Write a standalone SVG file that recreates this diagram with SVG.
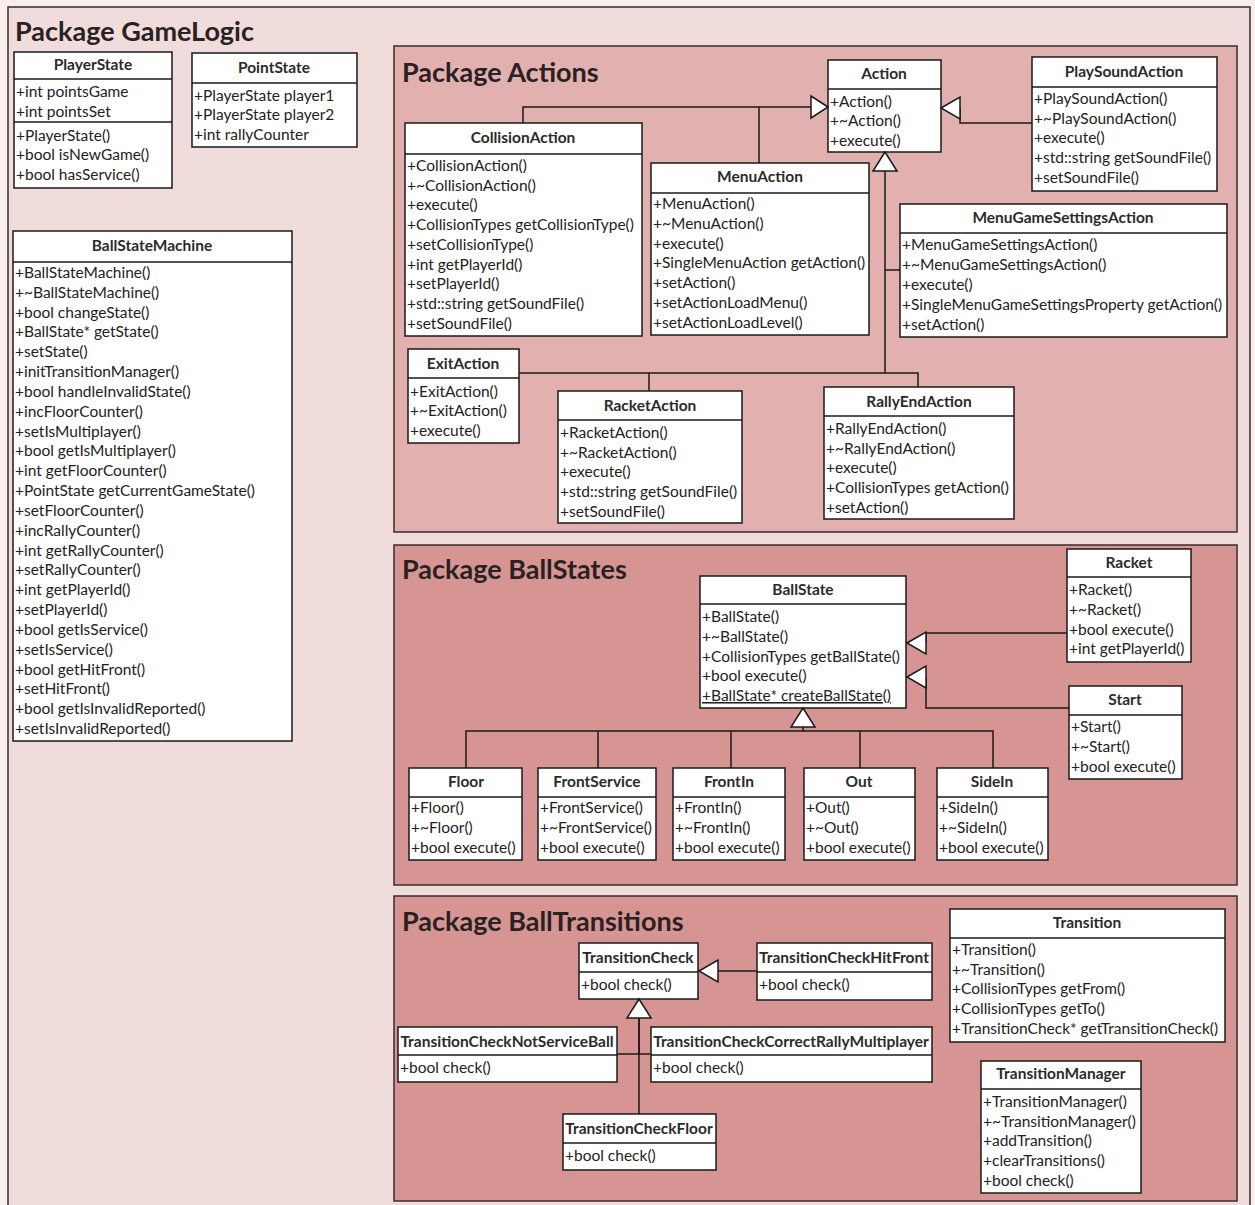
<svg xmlns="http://www.w3.org/2000/svg" width="1255" height="1205" viewBox="0 0 1255 1205">
  <defs>
    <style>
      .pkg { stroke: #3b2b2b; stroke-width: 1.5; }
      .box { fill: #ffffff; stroke: #1a1a1a; stroke-width: 1.5; }
      .sep { stroke: #1a1a1a; stroke-width: 1.5; }
      .pt { font-family: Lato, "Liberation Sans", sans-serif; font-weight: bold; font-size: 27px; fill: #2a2222; }
      .ct { font-family: Lato, "Liberation Sans", sans-serif; font-weight: bold; font-size: 15.5px; fill: #2b2b2b; text-anchor: middle; }
      .m { font-family: Lato, "Liberation Sans", sans-serif; font-size: 15.5px; fill: #222222; }
      .u { text-decoration: underline; }
      .edge { fill: none; stroke: #1a1a1a; stroke-width: 1.5; }
      .head { fill: #ffffff; stroke: #1a1a1a; stroke-width: 1.5; }
    </style>
  </defs>

  <!-- outer package -->
  <rect x="0" y="0" width="1255" height="1205" fill="#f8eeee"/>
  <rect id="pkg-gamelogic" class="pkg" x="8" y="7" width="1242" height="1210" fill="#f0dcdb"/>
  <text class="pt" x="15" y="41">Package GameLogic</text>

  <!-- sub packages -->
  <g id="pkg-actions">
    <rect class="pkg" x="394" y="46" width="843" height="486" fill="#e1b0af"/>
    <text class="pt" x="402" y="82">Package Actions</text>
  </g>
  <g id="pkg-ballstates">
    <rect class="pkg" x="394" y="545" width="843" height="340" fill="#d69592"/>
    <text class="pt" x="402" y="579">Package BallStates</text>
  </g>
  <g id="pkg-balltransitions">
    <rect class="pkg" x="394" y="896" width="843" height="305" fill="#d69592"/>
    <text class="pt" x="402" y="931">Package BallTransitions</text>
  </g>

  <!-- GameLogic classes -->
  <g id="PlayerState">
    <rect class="box" x="14" y="52" width="158" height="136"/>
    <line class="sep" x1="14" y1="79" x2="172" y2="79"/>
    <line class="sep" x1="14" y1="122" x2="172" y2="122"/>
    <text class="ct" x="93" y="70">PlayerState</text>
    <text class="m" x="16" y="97">+int pointsGame</text>
    <text class="m" x="16" y="117">+int pointsSet</text>
    <text class="m" x="16" y="141">+PlayerState()</text>
    <text class="m" x="16" y="160">+bool isNewGame()</text>
    <text class="m" x="16" y="180">+bool hasService()</text>
  </g>

  <g id="PointState">
    <rect class="box" x="192" y="53" width="165" height="94"/>
    <line class="sep" x1="192" y1="83" x2="357" y2="83"/>
    <text class="ct" x="274" y="73">PointState</text>
    <text class="m" x="194" y="101">+PlayerState player1</text>
    <text class="m" x="194" y="120">+PlayerState player2</text>
    <text class="m" x="194" y="140">+int rallyCounter</text>
  </g>

  <g id="BallStateMachine">
    <rect class="box" x="13" y="231" width="279" height="510"/>
    <line class="sep" x1="13" y1="262" x2="292" y2="262"/>
    <text class="ct" x="152" y="251">BallStateMachine</text>
    <text class="m" x="15" y="278">+BallStateMachine()</text>
    <text class="m" x="15" y="298">+~BallStateMachine()</text>
    <text class="m" x="15" y="318">+bool changeState()</text>
    <text class="m" x="15" y="337">+BallState* getState()</text>
    <text class="m" x="15" y="357">+setState()</text>
    <text class="m" x="15" y="377">+initTransitionManager()</text>
    <text class="m" x="15" y="397">+bool handleInvalidState()</text>
    <text class="m" x="15" y="417">+incFloorCounter()</text>
    <text class="m" x="15" y="437">+setIsMultiplayer()</text>
    <text class="m" x="15" y="456">+bool getIsMultiplayer()</text>
    <text class="m" x="15" y="476">+int getFloorCounter()</text>
    <text class="m" x="15" y="496">+PointState getCurrentGameState()</text>
    <text class="m" x="15" y="516">+setFloorCounter()</text>
    <text class="m" x="15" y="536">+incRallyCounter()</text>
    <text class="m" x="15" y="556">+int getRallyCounter()</text>
    <text class="m" x="15" y="575">+setRallyCounter()</text>
    <text class="m" x="15" y="595">+int getPlayerId()</text>
    <text class="m" x="15" y="615">+setPlayerId()</text>
    <text class="m" x="15" y="635">+bool getIsService()</text>
    <text class="m" x="15" y="655">+setIsService()</text>
    <text class="m" x="15" y="675">+bool getHitFront()</text>
    <text class="m" x="15" y="694">+setHitFront()</text>
    <text class="m" x="15" y="714">+bool getIsInvalidReported()</text>
    <text class="m" x="15" y="734">+setIsInvalidReported()</text>
  </g>

  <!-- Actions classes -->
  <g id="Action">
    <rect class="box" x="828" y="60" width="113" height="92"/>
    <line class="sep" x1="828" y1="89" x2="941" y2="89"/>
    <text class="ct" x="884" y="79">Action</text>
    <text class="m" x="830" y="107">+Action()</text>
    <text class="m" x="830" y="126">+~Action()</text>
    <text class="m" x="830" y="146">+execute()</text>
  </g>

  <g id="PlaySoundAction">
    <rect class="box" x="1032" y="57" width="185" height="134"/>
    <line class="sep" x1="1032" y1="87" x2="1217" y2="87"/>
    <text class="ct" x="1124" y="77">PlaySoundAction</text>
    <text class="m" x="1034" y="104">+PlaySoundAction()</text>
    <text class="m" x="1034" y="124">+~PlaySoundAction()</text>
    <text class="m" x="1034" y="143">+execute()</text>
    <text class="m" x="1034" y="163">+std::string getSoundFile()</text>
    <text class="m" x="1034" y="183">+setSoundFile()</text>
  </g>

  <g id="CollisionAction">
    <rect class="box" x="405" y="123" width="237" height="213"/>
    <line class="sep" x1="405" y1="154" x2="642" y2="154"/>
    <text class="ct" x="523" y="143">CollisionAction</text>
    <text class="m" x="407" y="171">+CollisionAction()</text>
    <text class="m" x="407" y="191">+~CollisionAction()</text>
    <text class="m" x="407" y="210">+execute()</text>
    <text class="m" x="407" y="230">+CollisionTypes getCollisionType()</text>
    <text class="m" x="407" y="250">+setCollisionType()</text>
    <text class="m" x="407" y="270">+int getPlayerId()</text>
    <text class="m" x="407" y="289">+setPlayerId()</text>
    <text class="m" x="407" y="309">+std::string getSoundFile()</text>
    <text class="m" x="407" y="329">+setSoundFile()</text>
  </g>

  <g id="MenuAction">
    <rect class="box" x="651" y="163" width="218" height="172"/>
    <line class="sep" x1="651" y1="193" x2="869" y2="193"/>
    <text class="ct" x="760" y="182">MenuAction</text>
    <text class="m" x="653" y="209">+MenuAction()</text>
    <text class="m" x="653" y="229">+~MenuAction()</text>
    <text class="m" x="653" y="249">+execute()</text>
    <text class="m" x="653" y="268">+SingleMenuAction getAction()</text>
    <text class="m" x="653" y="288">+setAction()</text>
    <text class="m" x="653" y="308">+setActionLoadMenu()</text>
    <text class="m" x="653" y="328">+setActionLoadLevel()</text>
  </g>

  <g id="MenuGameSettingsAction">
    <rect class="box" x="900" y="204" width="327" height="133"/>
    <line class="sep" x1="900" y1="233" x2="1227" y2="233"/>
    <text class="ct" x="1063" y="223">MenuGameSettingsAction</text>
    <text class="m" x="902" y="250">+MenuGameSettingsAction()</text>
    <text class="m" x="902" y="270">+~MenuGameSettingsAction()</text>
    <text class="m" x="902" y="290">+execute()</text>
    <text class="m" x="902" y="310">+SingleMenuGameSettingsProperty getAction()</text>
    <text class="m" x="902" y="330">+setAction()</text>
  </g>

  <g id="ExitAction">
    <rect class="box" x="408" y="349" width="111" height="94"/>
    <line class="sep" x1="408" y1="378" x2="519" y2="378"/>
    <text class="ct" x="463" y="369">ExitAction</text>
    <text class="m" x="410" y="397">+ExitAction()</text>
    <text class="m" x="410" y="416">+~ExitAction()</text>
    <text class="m" x="410" y="436">+execute()</text>
  </g>

  <g id="RacketAction">
    <rect class="box" x="558" y="391" width="184" height="132"/>
    <line class="sep" x1="558" y1="420" x2="742" y2="420"/>
    <text class="ct" x="650" y="411">RacketAction</text>
    <text class="m" x="560" y="438">+RacketAction()</text>
    <text class="m" x="560" y="458">+~RacketAction()</text>
    <text class="m" x="560" y="477">+execute()</text>
    <text class="m" x="560" y="497">+std::string getSoundFile()</text>
    <text class="m" x="560" y="517">+setSoundFile()</text>
  </g>

  <g id="RallyEndAction">
    <rect class="box" x="824" y="387" width="190" height="132"/>
    <line class="sep" x1="824" y1="416" x2="1014" y2="416"/>
    <text class="ct" x="919" y="407">RallyEndAction</text>
    <text class="m" x="826" y="434">+RallyEndAction()</text>
    <text class="m" x="826" y="454">+~RallyEndAction()</text>
    <text class="m" x="826" y="473">+execute()</text>
    <text class="m" x="826" y="493">+CollisionTypes getAction()</text>
    <text class="m" x="826" y="513">+setAction()</text>
  </g>

  <!-- BallStates classes -->
  <g id="BallState">
    <rect class="box" x="700" y="576" width="206" height="132"/>
    <line class="sep" x1="700" y1="604" x2="906" y2="604"/>
    <text class="ct" x="803" y="595">BallState</text>
    <text class="m" x="702" y="622">+BallState()</text>
    <text class="m" x="702" y="642">+~BallState()</text>
    <text class="m" x="702" y="662">+CollisionTypes getBallState()</text>
    <text class="m" x="702" y="681">+bool execute()</text>
    <text class="m u" x="702" y="701">+BallState* createBallState()</text>
  </g>

  <g id="Racket">
    <rect class="box" x="1067" y="549" width="124" height="113"/>
    <line class="sep" x1="1067" y1="577" x2="1191" y2="577"/>
    <text class="ct" x="1129" y="568">Racket</text>
    <text class="m" x="1069" y="595">+Racket()</text>
    <text class="m" x="1069" y="615">+~Racket()</text>
    <text class="m" x="1069" y="635">+bool execute()</text>
    <text class="m" x="1069" y="654">+int getPlayerId()</text>
  </g>

  <g id="Start">
    <rect class="box" x="1069" y="686" width="113" height="93"/>
    <line class="sep" x1="1069" y1="715" x2="1182" y2="715"/>
    <text class="ct" x="1125" y="705">Start</text>
    <text class="m" x="1071" y="732">+Start()</text>
    <text class="m" x="1071" y="752">+~Start()</text>
    <text class="m" x="1071" y="772">+bool execute()</text>
  </g>

  <g id="Floor">
    <rect class="box" x="409" y="768" width="113" height="92"/>
    <line class="sep" x1="409" y1="797" x2="522" y2="797"/>
    <text class="ct" x="466" y="787">Floor</text>
    <text class="m" x="411" y="813">+Floor()</text>
    <text class="m" x="411" y="833">+~Floor()</text>
    <text class="m" x="411" y="853">+bool execute()</text>
  </g>

  <g id="FrontService">
    <rect class="box" x="538" y="768" width="118" height="92"/>
    <line class="sep" x1="538" y1="797" x2="656" y2="797"/>
    <text class="ct" x="597" y="787">FrontService</text>
    <text class="m" x="540" y="813">+FrontService()</text>
    <text class="m" x="540" y="833">+~FrontService()</text>
    <text class="m" x="540" y="853">+bool execute()</text>
  </g>

  <g id="FrontIn">
    <rect class="box" x="673" y="768" width="112" height="92"/>
    <line class="sep" x1="673" y1="797" x2="785" y2="797"/>
    <text class="ct" x="729" y="787">FrontIn</text>
    <text class="m" x="675" y="813">+FrontIn()</text>
    <text class="m" x="675" y="833">+~FrontIn()</text>
    <text class="m" x="675" y="853">+bool execute()</text>
  </g>

  <g id="Out">
    <rect class="box" x="804" y="768" width="111" height="92"/>
    <line class="sep" x1="804" y1="797" x2="915" y2="797"/>
    <text class="ct" x="859" y="787">Out</text>
    <text class="m" x="806" y="813">+Out()</text>
    <text class="m" x="806" y="833">+~Out()</text>
    <text class="m" x="806" y="853">+bool execute()</text>
  </g>

  <g id="SideIn">
    <rect class="box" x="937" y="768" width="111" height="92"/>
    <line class="sep" x1="937" y1="797" x2="1048" y2="797"/>
    <text class="ct" x="992" y="787">SideIn</text>
    <text class="m" x="939" y="813">+SideIn()</text>
    <text class="m" x="939" y="833">+~SideIn()</text>
    <text class="m" x="939" y="853">+bool execute()</text>
  </g>

  <!-- BallTransitions classes -->
  <g id="TransitionCheck">
    <rect class="box" x="579" y="943" width="119" height="56"/>
    <line class="sep" x1="579" y1="972" x2="698" y2="972"/>
    <text class="ct" x="638" y="963">TransitionCheck</text>
    <text class="m" x="581" y="990">+bool check()</text>
  </g>

  <g id="TransitionCheckHitFront">
    <rect class="box" x="757" y="943" width="175" height="57"/>
    <line class="sep" x1="757" y1="972" x2="932" y2="972"/>
    <text class="ct" x="844" y="963">TransitionCheckHitFront</text>
    <text class="m" x="759" y="990">+bool check()</text>
  </g>

  <g id="TransitionCheckNotServiceBall">
    <rect class="box" x="398" y="1027" width="219" height="55"/>
    <line class="sep" x1="398" y1="1055" x2="617" y2="1055"/>
    <text class="ct" x="507" y="1047">TransitionCheckNotServiceBall</text>
    <text class="m" x="400" y="1073">+bool check()</text>
  </g>

  <g id="TransitionCheckCorrectRallyMultiplayer">
    <rect class="box" x="651" y="1027" width="281" height="55"/>
    <line class="sep" x1="651" y1="1055" x2="932" y2="1055"/>
    <text class="ct" x="791" y="1047">TransitionCheckCorrectRallyMultiplayer</text>
    <text class="m" x="653" y="1073">+bool check()</text>
  </g>

  <g id="TransitionCheckFloor">
    <rect class="box" x="563" y="1114" width="153" height="56"/>
    <line class="sep" x1="563" y1="1143" x2="716" y2="1143"/>
    <text class="ct" x="639" y="1134">TransitionCheckFloor</text>
    <text class="m" x="565" y="1161">+bool check()</text>
  </g>

  <g id="Transition">
    <rect class="box" x="950" y="909" width="275" height="133"/>
    <line class="sep" x1="950" y1="938" x2="1225" y2="938"/>
    <text class="ct" x="1087" y="928">Transition</text>
    <text class="m" x="952" y="955">+Transition()</text>
    <text class="m" x="952" y="975">+~Transition()</text>
    <text class="m" x="952" y="994">+CollisionTypes getFrom()</text>
    <text class="m" x="952" y="1014">+CollisionTypes getTo()</text>
    <text class="m" x="952" y="1034">+TransitionCheck* getTransitionCheck()</text>
  </g>

  <g id="TransitionManager">
    <rect class="box" x="981" y="1061" width="160" height="132"/>
    <line class="sep" x1="981" y1="1089" x2="1141" y2="1089"/>
    <text class="ct" x="1061" y="1079">TransitionManager</text>
    <text class="m" x="983" y="1107">+TransitionManager()</text>
    <text class="m" x="983" y="1127">+~TransitionManager()</text>
    <text class="m" x="983" y="1146">+addTransition()</text>
    <text class="m" x="983" y="1166">+clearTransitions()</text>
    <text class="m" x="983" y="1186">+bool check()</text>
  </g>

  <!-- generalization connectors -->
  <g id="connectors">
    <!-- Actions -->
    <path class="edge" d="M523,123 V107 H811 M759,163 V107"/>
    <polygon class="head" points="828,107 811,96 811,118"/>
    <path class="edge" d="M1032,123 H960 V108"/>
    <polygon class="head" points="941,108 960,97 960,119"/>
    <path class="edge" d="M885,171 V373 M885,270 H900 M519,373 H918 V387 M649,373 V391"/>
    <polygon class="head" points="885,152 873,171 897,171"/>

    <!-- BallStates -->
    <path class="edge" d="M1067,633 H926 V643"/>
    <polygon class="head" points="907,643 926,632 926,654"/>
    <path class="edge" d="M1069,708 H926 V677"/>
    <polygon class="head" points="907,677 926,666 926,688"/>
    <path class="edge" d="M803,727 V731 M466,768 V731 H993 V768 M598,731 V768 M731,731 V768 M860,731 V768"/>
    <polygon class="head" points="803,708 791,727 815,727"/>

    <!-- BallTransitions -->
    <path class="edge" d="M757,971 H718"/>
    <polygon class="head" points="699,971 718,960 718,982"/>
    <path class="edge" d="M639,1018 V1114 M617,1054 H651"/>
    <path class="edge" d="M639,1018 V1054" stroke-width="3.5"/>
    <polygon class="head" points="639,999 627,1018 651,1018"/>
  </g>
</svg>
